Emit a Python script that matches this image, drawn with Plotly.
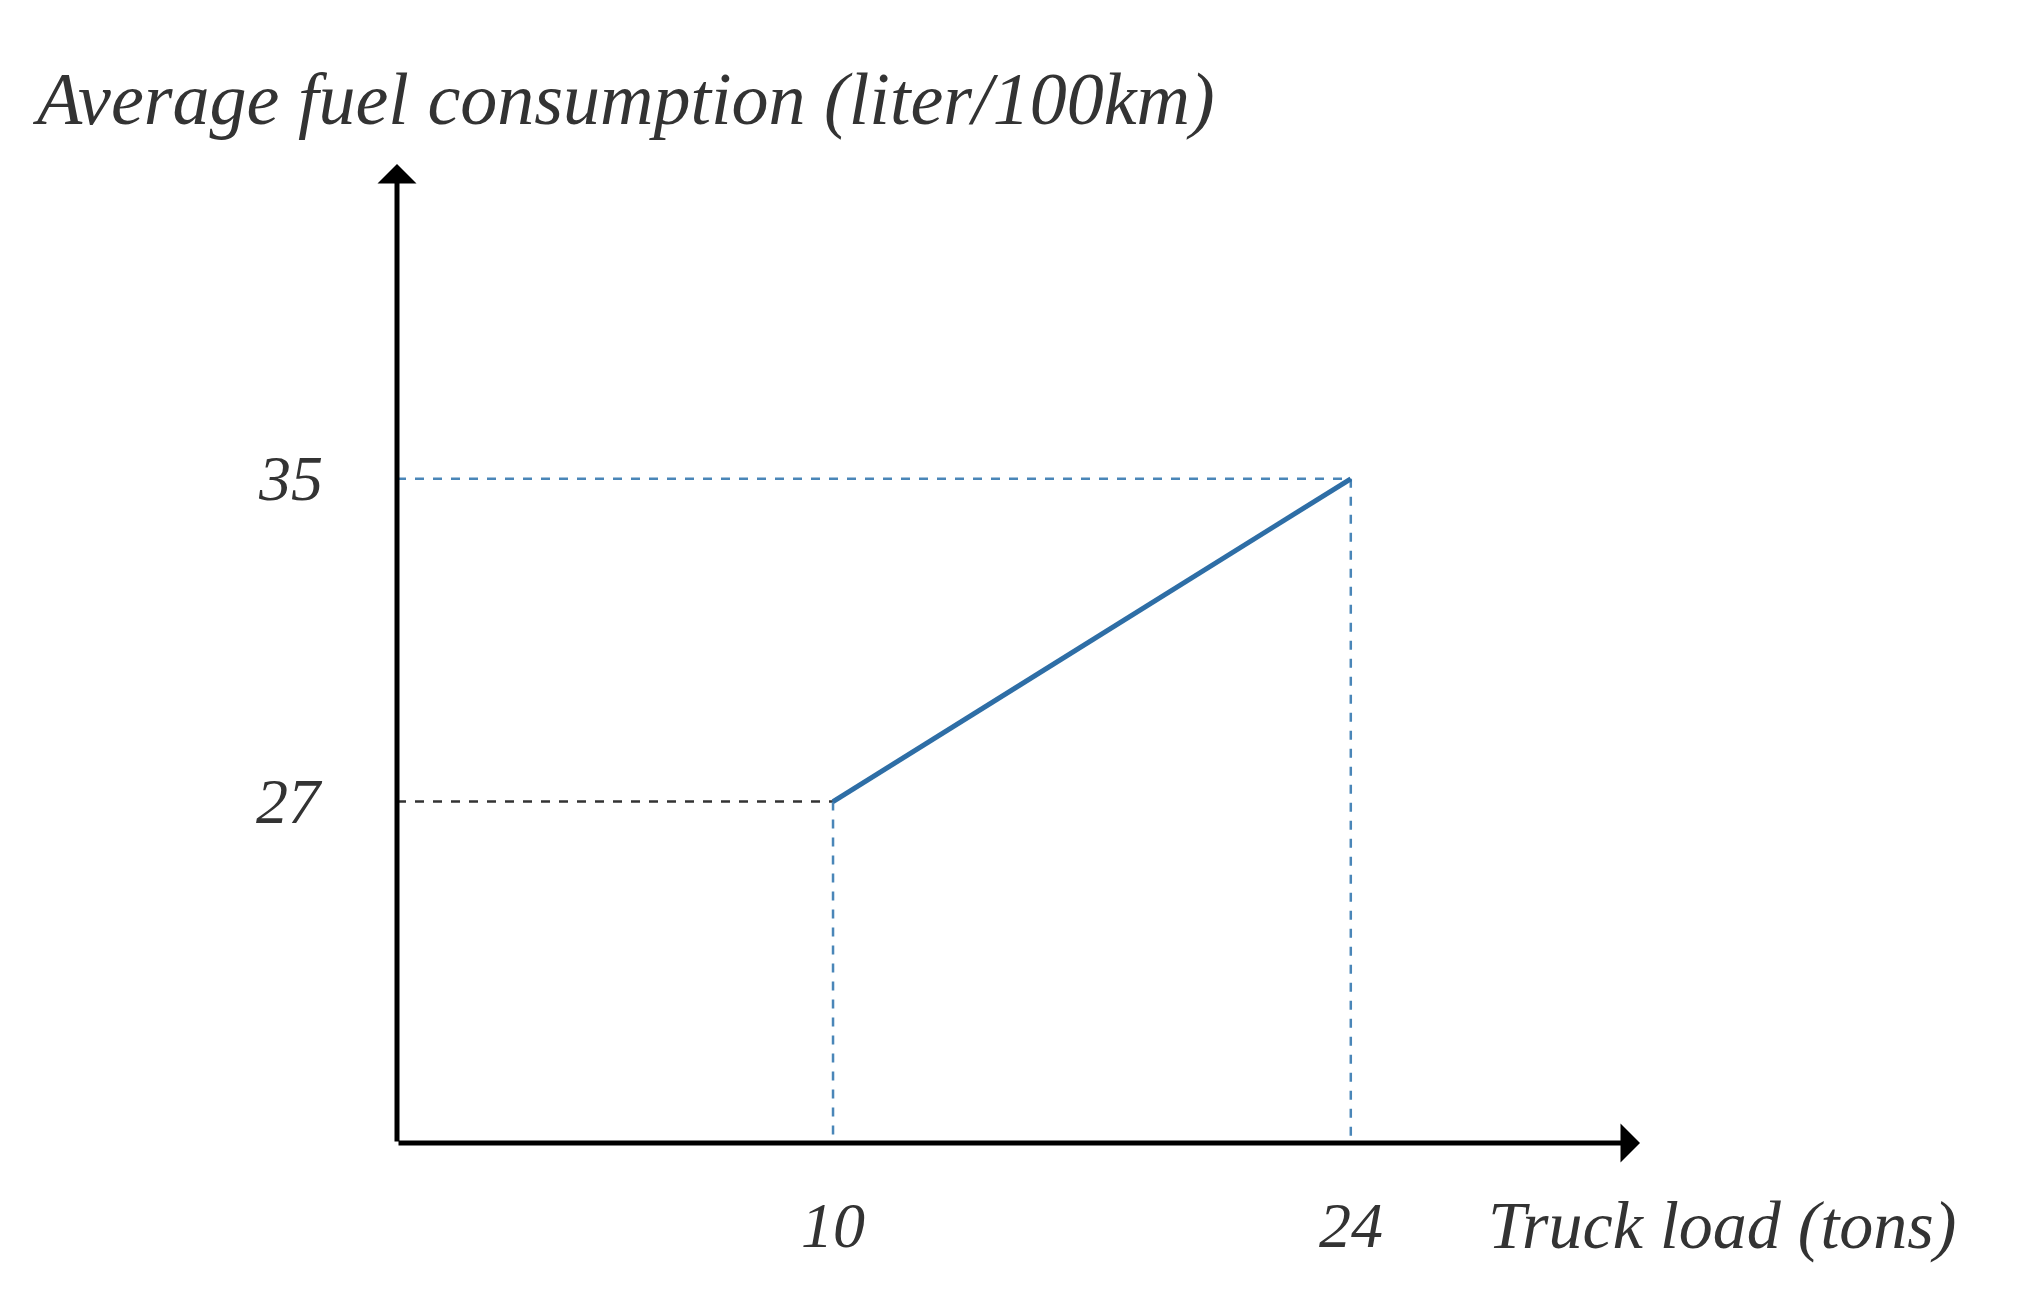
import plotly.graph_objects as go

loads = [10, 24]
fuel = [27, 35]
x_ticks = [10, 24]
y_ticks = [27, 35]

X0, X1 = -1.79, 31.82
Y0, Y1 = 18.54, 42.8
L, R, T, B = 389, 392, 156, 166
W, H = 2024, 1301
font = dict(family="Liberation Serif", size=64, color="#333")

fig = go.Figure()
for xv, yv, col in [(loads[0], fuel[0], "#333333"), (loads[1], fuel[1], "#4a86b8")]:
    fig.add_trace(go.Scatter(x=[X0, xv], y=[yv, yv], mode="lines",
                             line=dict(color=col, width=2.5, dash="dash"), hoverinfo="skip"))
    fig.add_trace(go.Scatter(x=[xv, xv], y=[yv, Y0], mode="lines",
                             line=dict(color="#4a86b8", width=2.5, dash="dash"), hoverinfo="skip"))
fig.add_trace(go.Scatter(x=loads, y=fuel, mode="lines",
                         line=dict(color="#2e6ea6", width=5)))

ann = []
ann.append(dict(x=X1, y=Y0, ax=X0, ay=Y0, xref="x", yref="y", axref="x", ayref="y",
                showarrow=True, arrowhead=1, arrowsize=1.3, arrowwidth=5, arrowcolor="black", text=""))
ann.append(dict(x=X0, y=Y1, ax=X0, ay=Y0, xref="x", yref="y", axref="x", ayref="y",
                showarrow=True, arrowhead=1, arrowsize=1.3, arrowwidth=5, arrowcolor="black", text=""))
for v in x_ticks:
    ann.append(dict(x=v, y=Y0, xref="x", yref="y", yshift=-82, showarrow=False,
                    text=f"<i>{v}</i>", font=font))
for v in y_ticks:
    ann.append(dict(x=X0, y=v, xref="x", yref="y", xshift=-72, xanchor="right", showarrow=False,
                    text=f"<i>{v}</i>", font=font))
ann.append(dict(x=(1478 - L) / (W - L - R), y=Y0, xref="paper", yref="y", yshift=-82,
                xanchor="left", showarrow=False, text="<i>Truck load (tons)</i>",
                font=dict(family="Liberation Serif", size=68, color="#333")))
ann.append(dict(x=(22 - L) / (W - L - R), y=(H - B - 91) / (H - T - B), xref="paper", yref="paper",
                xanchor="left", yanchor="middle", showarrow=False,
                text="<i>Average fuel consumption (liter/100km)</i>",
                font=dict(family="Liberation Serif", size=74, color="#333")))

fig.update_layout(width=W, height=H, margin=dict(l=L, r=R, t=T, b=B),
                  plot_bgcolor="white", paper_bgcolor="white", showlegend=False,
                  annotations=ann,
                  xaxis=dict(range=[X0, X1], visible=False),
                  yaxis=dict(range=[Y0, Y1], visible=False))
fig.write_html("out.html")
